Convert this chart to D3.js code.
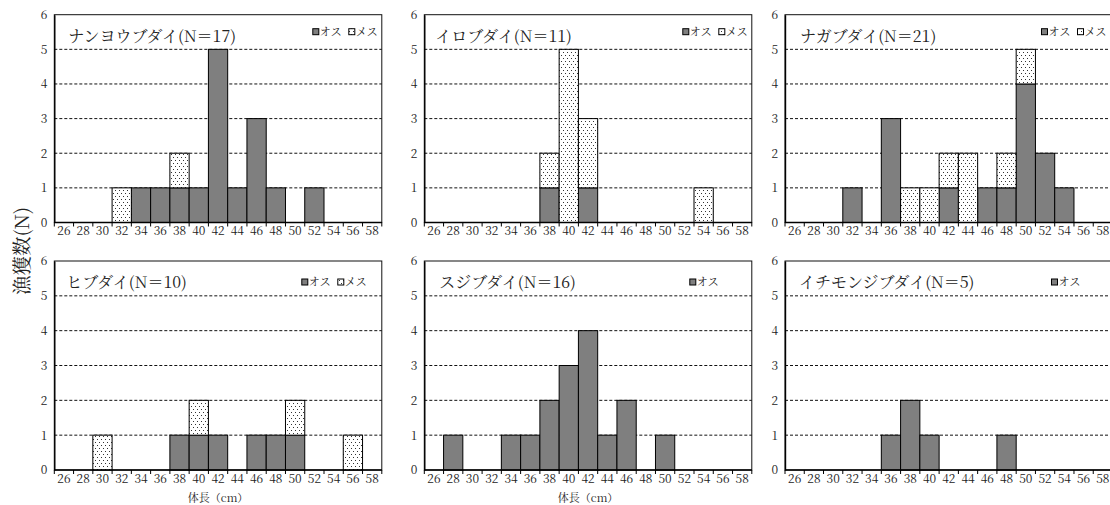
<!DOCTYPE html>
<html><head><meta charset="utf-8">
<script src="https://cdn.jsdelivr.net/npm/d3@7"></script>
<style>
body{margin:0;background:#fff;}
svg{display:block;}
text{fill:#222;}
</style>
</head><body>
<svg id="chart" width="1110" height="505"></svg>
<script>
// ---------- data ----------
const lengthBins = [26,28,30,32,34,36,38,40,42,44,46,48,50,52,54,56,58];
const countTicks = [0,1,2,3,4,5,6];
const gridCounts = [1,2,3,4,5];
const speciesTitles = [
  "ナンヨウブダイ(N＝17)",
  "イロブダイ(N＝11)",
  "ナガブダイ(N＝21)",
  "ヒブダイ(N＝10)",
  "スジブダイ(N＝16)",
  "イチモンジブダイ(N＝5)"
];
//                       26 28 30 32 34 36 38 40 42 44 46 48 50 52 54 56 58
const maleNanyou     = [0, 0, 0, 0, 1, 1, 1, 1, 5, 1, 3, 1, 0, 1, 0, 0, 0];
const femaleNanyou   = [0, 0, 0, 1, 0, 0, 1, 0, 0, 0, 0, 0, 0, 0, 0, 0, 0];
const maleIro        = [0, 0, 0, 0, 0, 0, 1, 0, 1, 0, 0, 0, 0, 0, 0, 0, 0];
const femaleIro      = [0, 0, 0, 0, 0, 0, 1, 5, 2, 0, 0, 0, 0, 0, 1, 0, 0];
const maleNaga       = [0, 0, 0, 1, 0, 3, 0, 0, 1, 0, 1, 1, 4, 2, 1, 0, 0];
const femaleNaga     = [0, 0, 0, 0, 0, 0, 1, 1, 1, 2, 0, 1, 1, 0, 0, 0, 0];
const maleHi         = [0, 0, 0, 0, 0, 0, 1, 1, 1, 0, 1, 1, 1, 0, 0, 0, 0];
const femaleHi       = [0, 0, 1, 0, 0, 0, 0, 1, 0, 0, 0, 0, 1, 0, 0, 1, 0];
const maleSuji       = [0, 1, 0, 0, 1, 1, 2, 3, 4, 1, 2, 0, 1, 0, 0, 0, 0];
const maleIchimonji  = [0, 0, 0, 0, 0, 1, 2, 1, 0, 0, 0, 1, 0, 0, 0, 0, 0];
const maleSeries   = [maleNanyou, maleIro, maleNaga, maleHi, maleSuji, maleIchimonji];
const femaleSeries = [femaleNanyou, femaleIro, femaleNaga, femaleHi, null, null];
const legendLabels = ["オス", "メス"];
const axisTitleY = "漁獲数(N)";
const axisTitleX = "体長（cm）";

// ---------- layout ----------
const colLeft = [54.3, 424.3, 785];
const plotW = 327.5;
const rowTop = [14.7, 261];
const rowBottom = [222.5, 470];
const legendRightOffset = [69, 69, 71, 80, 62, 61];
const legendTopOffset = [17, 21];
const titleLeftOffset = [14, 11, 15, 12, 15, 14];
const showXTitle = [false, false, false, true, true, false];

const FONT = '"Noto Serif CJK JP", "Liberation Serif", serif';
const svg = d3.select("#chart");

const defs = svg.append("defs");
const pat = defs.append("pattern").attr("id","dots").attr("patternUnits","userSpaceOnUse")
  .attr("width",4).attr("height",6);
pat.append("rect").attr("width",4).attr("height",6).attr("fill","#fff");
pat.append("rect").attr("x",1).attr("y",1).attr("width",1).attr("height",1).attr("fill","#333");
pat.append("rect").attr("x",3).attr("y",4).attr("width",1).attr("height",1).attr("fill","#333");

speciesTitles.forEach((title, i) => {
  const col = i % 3, row = Math.floor(i / 3);
  const left = colLeft[col], right = left + plotW;
  const top = rowTop[row], bottom = rowBottom[row];

  const x = d3.scaleBand().domain(lengthBins).range([left, right]).padding(0);
  const y = d3.scaleLinear().domain([0, 6]).range([bottom, top]);
  const g = svg.append("g");

  // gridlines
  g.selectAll("line.grid").data(gridCounts).join("line")
    .attr("x1", left).attr("x2", right)
    .attr("y1", d => y(d)).attr("y2", d => y(d))
    .attr("stroke", "#111").attr("stroke-width", 1).attr("stroke-dasharray", "3,2");

  // frame
  g.append("rect").attr("x", left).attr("y", top)
    .attr("width", plotW).attr("height", bottom - top)
    .attr("fill", "none").attr("stroke", "#111").attr("stroke-width", 1);

  // bars
  const male = maleSeries[i], female = femaleSeries[i];
  const barData = lengthBins.map((b, k) => ({ b, m: male[k], f: female ? female[k] : 0 }));
  g.selectAll("rect.m").data(barData.filter(d => d.m > 0)).join("rect")
    .attr("x", d => x(d.b)).attr("width", x.bandwidth())
    .attr("y", d => y(d.m)).attr("height", d => y(0) - y(d.m))
    .attr("fill", "#7f7f7f").attr("stroke", "#000").attr("stroke-width", 1);
  g.selectAll("rect.f").data(barData.filter(d => d.f > 0)).join("rect")
    .attr("x", d => x(d.b)).attr("width", x.bandwidth())
    .attr("y", d => y(d.m + d.f)).attr("height", d => y(d.m) - y(d.m + d.f))
    .attr("fill", "url(#dots)").attr("stroke", "#000").attr("stroke-width", 1);

  // x axis
  const xAxis = g.append("g").attr("transform", `translate(0,${bottom})`)
    .call(d3.axisBottom(x).tickSize(0).tickPadding(4));
  xAxis.attr("font-family", null).attr("font-size", null);
  xAxis.select(".domain").remove();
  xAxis.selectAll("text").style("font-family", FONT).style("font-size", "12px").attr("fill", "#222");
  const bounds = lengthBins.map(b => x(b)).concat([x(lengthBins[lengthBins.length - 1]) + x.bandwidth()]);
  g.selectAll("line.xt").data(bounds).join("line")
    .attr("x1", d => d).attr("x2", d => d)
    .attr("y1", bottom).attr("y2", bottom + 4)
    .attr("stroke", "#000").attr("stroke-width", 1);
  g.append("line").attr("x1", left).attr("x2", right).attr("y1", bottom).attr("y2", bottom)
    .attr("stroke", "#000").attr("stroke-width", 1.4);

  // y axis
  const yAxis = g.append("g").attr("transform", `translate(${left},0)`)
    .call(d3.axisLeft(y).tickValues(countTicks).tickFormat(d3.format("d")).tickSize(0).tickPadding(7));
  yAxis.attr("font-family", null).attr("font-size", null);
  yAxis.select(".domain").attr("stroke", "#000").attr("stroke-width", 1.4);
  yAxis.selectAll("text").style("font-family", FONT).style("font-size", "12px").attr("fill", "#222");

  // title
  g.append("text").attr("x", left + titleLeftOffset[i]).attr("y", top + 27)
    .style("font-family", FONT).style("font-size", "16px").text(title);

  // legend
  const lx = right - legendRightOffset[i];
  const ly = top + legendTopOffset[row];
  const items = female ? legendLabels : legendLabels.slice(0, 1);
  items.forEach((lab, k) => {
    const ox = lx + k * 36;
    g.append("rect").attr("x", ox).attr("y", ly - 3).attr("width", 6).attr("height", 6)
      .attr("fill", k === 0 ? "#7f7f7f" : "url(#dots)").attr("stroke", "#000").attr("stroke-width", 1);
    g.append("text").attr("x", ox + 7).attr("y", ly + 4)
      .style("font-family", FONT).style("font-size", "11px").text(lab);
  });

  // x title
  if (showXTitle[i]) {
    g.append("text").attr("x", (left + right) / 2).attr("y", 502)
      .attr("text-anchor", "middle").style("font-family", FONT).style("font-size", "11px")
      .text(axisTitleX);
  }
});

// y title
svg.append("text").attr("transform", "translate(29,251) rotate(-90)")
  .attr("text-anchor", "middle").style("font-family", FONT).style("font-size", "19.5px")
  .text(axisTitleY);
</script>
</body></html>
